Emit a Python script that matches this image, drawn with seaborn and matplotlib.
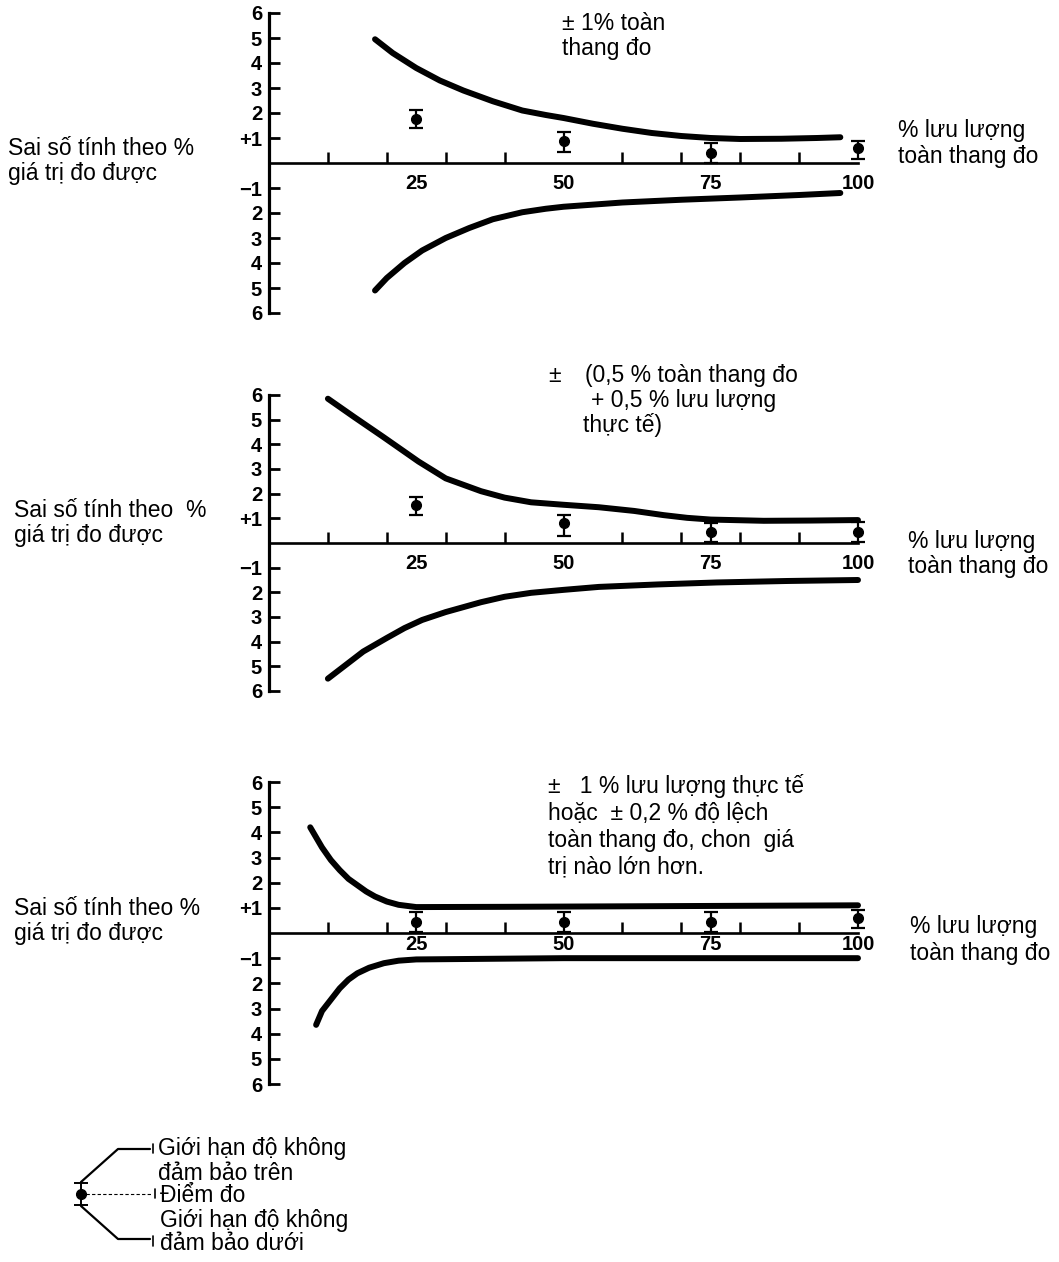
import numpy as np
import matplotlib
matplotlib.use('Agg')
import matplotlib.pyplot as plt
import seaborn as sns

# values (x = % lưu lượng, y = sai số %)
pts_x = [25, 50, 75, 100]

# panel 1: ± 1% toàn thang đo
up1_x = [18, 21, 25, 29, 33, 38, 43, 47, 50, 55, 60, 65, 70, 75, 80, 87, 93, 97]
up1_y = [4.95, 4.4, 3.8, 3.3, 2.9, 2.47, 2.1, 1.92, 1.8, 1.57, 1.37, 1.2, 1.08, 1.0,
         0.96, 0.97, 1.0, 1.03]
lo1_x = [18, 20, 23, 26, 30, 34, 38, 43, 47, 50, 60, 70, 80, 90, 97]
lo1_y = [-5.1, -4.6, -4.0, -3.5, -3.0, -2.6, -2.25, -1.97, -1.83, -1.75, -1.58,
         -1.47, -1.38, -1.28, -1.2]
pt1_y = [1.75, 0.9, 0.4, 0.6]
pt1_lo = [1.4, 0.45, 0.0, 0.15]
pt1_hi = [2.1, 1.25, 0.8, 0.9]

# panel 2: ±(0,5 % toàn thang đo + 0,5 % lưu lượng thực tế)
up2_x = [10, 14.5, 19.4, 25.4, 30, 36, 40, 44.5, 50, 56, 62, 67, 71, 75, 84, 92, 100]
up2_y = [5.85, 5.1, 4.3, 3.3, 2.62, 2.1, 1.84, 1.65, 1.55, 1.45, 1.3, 1.13, 1.02,
         0.95, 0.9, 0.91, 0.93]
lo2_x = [10, 13, 16, 20, 23, 26, 30, 36, 40, 44.5, 50, 56, 66, 76, 88, 100]
lo2_y = [-5.5, -4.95, -4.4, -3.85, -3.45, -3.12, -2.8, -2.4, -2.18, -2.02, -1.9, -1.78,
         -1.68, -1.6, -1.54, -1.5]
pt2_y = [1.55, 0.8, 0.45, 0.45]
pt2_lo = [1.15, 0.3, 0.05, 0.05]
pt2_hi = [1.85, 1.15, 0.8, 0.85]

# panel 3: ±1 % lưu lượng thực tế hoặc ±0,2 % toàn thang đo
up3_x = [7, 8, 9, 10.5, 12, 13.5, 15, 16.5, 18, 20, 22, 25, 40, 60, 80, 100]
up3_y = [4.2, 3.8, 3.4, 2.9, 2.5, 2.15, 1.9, 1.65, 1.45, 1.25, 1.12, 1.03, 1.04,
         1.06, 1.08, 1.1]
lo3_x = [8, 9, 10.5, 12, 13.5, 15, 17, 19.5, 22, 25, 50, 75, 100]
lo3_y = [-3.65, -3.1, -2.65, -2.2, -1.85, -1.6, -1.38, -1.2, -1.1, -1.05, -1.0,
         -1.0, -1.0]
pt3_y = [0.45, 0.45, 0.45, 0.6]
pt3_lo = [0.05, 0.05, 0.05, 0.2]
pt3_hi = [0.85, 0.85, 0.85, 0.9]

ytick_pos = [6, 5, 4, 3, 2, 1, -1, -2, -3, -4, -5, -6]
ytick_lab = ['6', '5', '4', '3', '2', '+1', '−1', '2', '3', '4', '5', '6']
xtick_pos = [25, 50, 75, 100]
xtick_lab = ['25', '50', '75', '100']

panels = [
    (up1_x, up1_y, lo1_x, lo1_y, pt1_y, pt1_lo, pt1_hi),
    (up2_x, up2_y, lo2_x, lo2_y, pt2_y, pt2_lo, pt2_hi),
    (up3_x, up3_y, lo3_x, lo3_y, pt3_y, pt3_lo, pt3_hi),
]
# pixel rows of y=+6 and y=-6 for each panel, and x-label pad
panel_px = [(13, 313), (395, 691), (782, 1084)]
xlab_pad = [8, 8, 1.5]

sns.set_theme(style='white')
plt.rcParams['font.family'] = ['Liberation Sans', 'DejaVu Sans']

W, H = 1059, 1262
fig = plt.figure(figsize=(W / 100, H / 100), dpi=100)
fig.patch.set_facecolor('white')


def fx(x):
    return x / W


def fy(y):
    return 1 - y / H


x0_px, x1_px = 269, 858

for (ux, uy, lx, ly, py, plo, phi), (top, bot), pad in zip(panels, panel_px, xlab_pad):
    ax = fig.add_axes([fx(x0_px), fy(bot), (x1_px - x0_px) / W, (bot - top) / H])
    ax.set_facecolor('none')
    ax.set_xlim(0, 100)
    ax.set_ylim(-6, 6)

    for cx, cy in [(ux, uy), (lx, ly)]:
        sns.lineplot(x=cx, y=cy, ax=ax, color='black', lw=4.3, estimator=None,
                     sort=False, solid_capstyle='round', solid_joinstyle='round',
                     clip_on=False)

    yerr = [np.subtract(py, plo), np.subtract(phi, py)]
    ax.errorbar(pts_x, py, yerr=yerr, fmt='o', color='black', ms=7,
                elinewidth=1.6, capsize=5, capthick=1.6, clip_on=False, zorder=5)

    for s in ['top', 'right']:
        ax.spines[s].set_visible(False)
    ax.spines['left'].set_bounds(-6, 6)
    ax.spines['left'].set_linewidth(2.3)
    ax.spines['left'].set_color('black')
    ax.spines['bottom'].set_position(('data', 0))
    ax.spines['bottom'].set_linewidth(1.9)
    ax.spines['bottom'].set_color('black')

    ax.set_yticks(ytick_pos)
    ax.set_yticklabels(ytick_lab, fontweight='bold', fontsize=14.5)
    ax.tick_params(axis='y', direction='in', length=8, width=2, pad=5,
                   left=True, colors='black')
    ax.set_xticks(xtick_pos)
    ax.set_xticklabels(xtick_lab, fontweight='bold', fontsize=14.5)
    ax.set_xticks(range(10, 101, 10), minor=True)
    ax.tick_params(axis='x', which='major', length=0, pad=pad, colors='black')
    ax.tick_params(axis='x', which='minor', direction='in', length=8,
                   width=1.8, bottom=True, color='black')
    ax.set_xlabel('')
    ax.set_ylabel('')

FS = 16.5


def lines(x, baselines, texts, **kw):
    for b, t in zip(baselines, texts):
        fig.text(fx(x), fy(b), t, va='baseline', ha='left', fontsize=FS,
                 color='black', **kw)


# panel 1 texts
lines(8, [155, 180], ['Sai số tính theo %', 'giá trị đo được'])
lines(562, [30, 55], ['± 1% toàn', 'thang đo'])
lines(898, [137, 163], ['% lưu lượng', 'toàn thang đo'])

# panel 2 texts
lines(14, [517, 542], ['Sai số tính theo  %', 'giá trị đo được'])
lines(548, [382], ['±'])
lines(585, [382], ['(0,5 % toàn thang đo'])
lines(591, [407], ['+ 0,5 % lưu lượng'])
lines(583, [432], ['thực tế)'])
lines(908, [548, 573], ['% lưu lượng', 'toàn thang đo'])

# panel 3 texts
lines(14, [915, 940], ['Sai số tính theo %', 'giá trị đo được'])
lines(548, [793, 820, 847, 873], ['±   1 % lưu lượng thực tế',
                                  'hoặc  ± 0,2 % độ lệch',
                                  'toàn thang đo, chon  giá',
                                  'trị nào lớn hơn.'])
lines(910, [933, 960], ['% lưu lượng', 'toàn thang đo'])

# key at the bottom
key = fig.add_axes([0, 0, 1, 1], zorder=-1)
key.set_xlim(0, W)
key.set_ylim(H, 0)
key.axis('off')
key.errorbar([81], [1194], yerr=[[11], [11]], fmt='o', color='black', ms=7,
             elinewidth=1.4, capsize=5, capthick=1.4)
key.plot([81, 118, 150], [1182, 1149, 1149], color='black', lw=1.6)
key.plot([81, 118, 150], [1206, 1239, 1239], color='black', lw=1.6)
key.plot([86, 152], [1194, 1194], color='black', lw=0.8, ls=(0, (3, 2)))
key.plot([153, 153], [1144, 1153], color='black', lw=1.2)
key.plot([155, 155], [1189, 1198], color='black', lw=1.2)
key.plot([153, 153], [1236, 1246], color='black', lw=1.2)

lines(158, [1155, 1180], ['Giới hạn độ không', 'đảm bảo trên'])
lines(160, [1202], ['Điểm đo'])
lines(160, [1227, 1250], ['Giới hạn độ không', 'đảm bảo dưới'])

fig.savefig('out.png', dpi=100, facecolor='white')
